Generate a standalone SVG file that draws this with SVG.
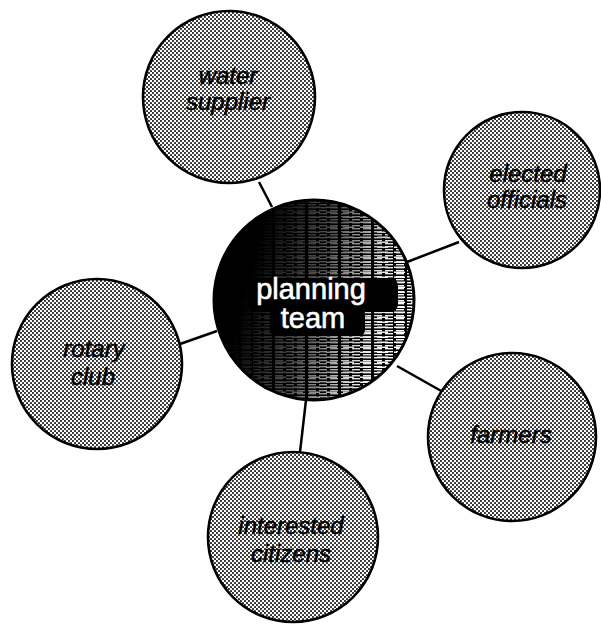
<svg xmlns="http://www.w3.org/2000/svg" width="601" height="624" viewBox="0 0 601 624">
<style>
.outer{fill:url(#dots);stroke:#000;stroke-width:2.6}
.lbl{font-family:"Liberation Sans",Arial,sans-serif;font-style:italic;font-size:24px;fill:#000;stroke:#000;stroke-width:0.5;text-anchor:middle}
.ctr{font-family:"Liberation Sans",Arial,sans-serif;font-size:29px;fill:#fff;stroke:#fff;stroke-width:0.6;text-anchor:middle}
.conn line{stroke:#000;stroke-width:2.5}
</style>
<defs>
<pattern id="dots" width="4" height="4" patternUnits="userSpaceOnUse">
<rect width="4" height="4" fill="#fff"/>
<circle cx="1" cy="1" r="1.05" fill="#222"/>
<circle cx="3" cy="3" r="1.05" fill="#222"/>
</pattern>
<pattern id="streaks" width="11" height="3" patternUnits="userSpaceOnUse">
<rect width="11" height="3" fill="#000"/>
<rect x="0" y="0" width="8" height="1.4" fill="#fff"/>
</pattern>
<pattern id="streaks2" width="17" height="5" patternUnits="userSpaceOnUse">
<rect x="3" y="1.5" width="11" height="1.5" fill="#fff"/>
</pattern>
<linearGradient id="fade" x1="0.2" y1="0.3" x2="0.95" y2="0.5">
<stop offset="0" stop-color="#000"/>
<stop offset="0.45" stop-color="#555"/>
<stop offset="0.8" stop-color="#ddd"/>
<stop offset="1" stop-color="#fff"/>
</linearGradient>
<mask id="streakMask" maskUnits="userSpaceOnUse" x="200" y="190" width="230" height="230">
<rect x="212" y="198" width="204" height="206" fill="url(#fade)"/>
<rect x="248" y="278" width="150" height="34" rx="8" fill="#000"/>
<rect x="270" y="308" width="95" height="28" rx="6" fill="#000"/>
</mask>
<clipPath id="cclip"><circle cx="314" cy="300" r="100"/></clipPath>
</defs>
<g class="conn" id="connectors">
<line x1="259" y1="182" x2="272" y2="207"/>
<line x1="407" y1="262" x2="459" y2="242"/>
<line x1="180" y1="344" x2="217" y2="331"/>
<line x1="397" y1="366" x2="443" y2="392"/>
<line x1="300" y1="452" x2="306" y2="400"/>
</g>
<g id="water-supplier">
<circle class="outer" cx="229" cy="97" r="86"/>
<text class="lbl" x="228" y="84">water</text>
<text class="lbl" x="228" y="110">supplier</text>
</g>
<g id="elected-officials">
<circle class="outer" cx="522" cy="190" r="78"/>
<text class="lbl" x="528" y="182">elected</text>
<text class="lbl" x="527" y="208">officials</text>
</g>
<g id="rotary-club">
<circle class="outer" cx="97" cy="364" r="85"/>
<text class="lbl" x="94" y="357">rotary</text>
<text class="lbl" x="93" y="385">club</text>
</g>
<g id="farmers">
<circle class="outer" cx="512" cy="437" r="84"/>
<text class="lbl" x="511" y="443">farmers</text>
</g>
<g id="interested-citizens">
<circle class="outer" cx="293" cy="537" r="85"/>
<text class="lbl" x="291" y="534">interested</text>
<text class="lbl" x="291" y="562">citizens</text>
</g>
<g id="planning-team">
<circle cx="314" cy="300" r="100" fill="#000"/>
<g clip-path="url(#cclip)" mask="url(#streakMask)">
<rect x="212" y="198" width="204" height="206" fill="url(#streaks)"/>
<rect x="212" y="198" width="204" height="206" fill="url(#streaks2)"/>
</g>
<circle cx="314" cy="300" r="100" fill="none" stroke="#000" stroke-width="3"/>
<text class="ctr" x="311" y="299">planning</text>
<text class="ctr" x="313" y="328">team</text>
</g>
</svg>
